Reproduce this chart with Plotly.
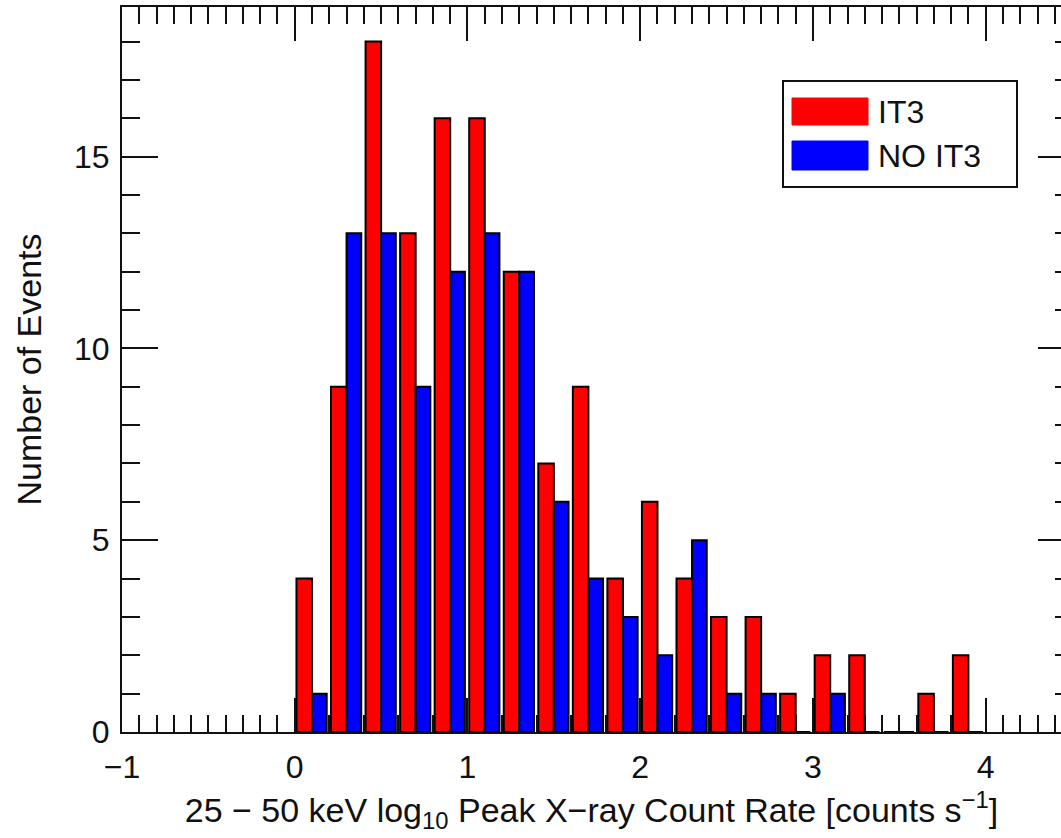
import plotly.graph_objects as go

# ---- data ----
bin_starts = [0.0, 0.2, 0.4, 0.6, 0.8, 1.0, 1.2, 1.4, 1.6, 1.8,
              2.0, 2.2, 2.4, 2.6, 2.8, 3.0, 3.2, 3.4, 3.6, 3.8]
it3_counts = [4, 9, 18, 13, 16, 16, 12, 7, 9, 4,
              6, 4, 3, 3, 1, 2, 2, 0, 1, 2]
no_it3_counts = [1, 13, 13, 9, 12, 13, 12, 6, 4, 3,
                 2, 5, 1, 1, 0, 1, 0, 0, 0, 0]
series_names = ["IT3", "NO IT3"]
y_tick_vals = [0, 5, 10, 15]
x_tick_vals = [-1, 0, 1, 2, 3, 4]

FONT = "Liberation Sans, Arial, Helvetica, sans-serif"
INK = "#111111"

fig = go.Figure()
fig.add_trace(go.Bar(
    x=bin_starts, y=it3_counts, name=series_names[0],
    offset=0.01, width=0.09,
    marker=dict(color="#ff0000", line=dict(color="#000000", width=2)),
    showlegend=False,
))
fig.add_trace(go.Bar(
    x=bin_starts, y=no_it3_counts, name=series_names[1],
    offset=0.10, width=0.085,
    marker=dict(color="#0000ff", line=dict(color="#000000", width=2)),
    showlegend=False,
))
# empty helper trace so the right-hand tick axis is drawn
fig.add_trace(go.Scatter(x=[None], y=[None], yaxis="y2", mode="markers",
                         showlegend=False, hoverinfo="skip"))

fig.update_layout(
    width=1061, height=838,
    margin=dict(l=122, r=0, t=7, b=106),
    paper_bgcolor="white", plot_bgcolor="white",
    barmode="overlay",
    font=dict(family=FONT, size=32, color=INK),
    xaxis=dict(
        range=[-1, 4.436], tickvals=x_tick_vals,
        ticktext=["\u22121" if v < 0 else str(v) for v in x_tick_vals],
        ticks="inside", ticklen=34, tickwidth=2, tickcolor=INK,
        minor=dict(dtick=0.1, tick0=0, ticks="inside", ticklen=17, tickwidth=2, tickcolor=INK),
        showline=True, linewidth=2, linecolor=INK, mirror="ticks",
        showgrid=False, zeroline=False,
        tickfont=dict(size=32), ticklabelstandoff=6,
        title=dict(text="25 \u2212 50 keV log<sub>10</sub> Peak X\u2212ray Count Rate [counts s<sup>\u22121</sup>]",
                   font=dict(size=34), standoff=14),
    ),
    yaxis=dict(
        range=[0, 18.9], tickvals=y_tick_vals,
        ticks="inside", ticklen=36, tickwidth=2, tickcolor=INK,
        minor=dict(dtick=1, tick0=0, ticks="inside", ticklen=18, tickwidth=2, tickcolor=INK),
        showline=True, linewidth=2, linecolor=INK, mirror=False,
        showgrid=False, zeroline=False,
        tickfont=dict(size=32), ticklabelstandoff=4,
        title=dict(text="Number of Events", font=dict(size=34), standoff=22),
    ),
    yaxis2=dict(
        overlaying="y", side="right", anchor="x", range=[0, 18.9],
        tickvals=y_tick_vals, showticklabels=False,
        ticks="inside", ticklen=23, tickwidth=2, tickcolor=INK,
        minor=dict(dtick=1, tick0=0, ticks="inside", ticklen=6, tickwidth=2, tickcolor=INK),
        showline=False, showgrid=False, zeroline=False,
    ),
)

# ---- manual legend (large swatches, boxed) ----
def px_x(p):
    return (p - 122) / 939.0

def px_y(p):
    return (732 - p) / 725.0

fig.add_shape(type="rect", xref="paper", yref="paper",
              x0=px_x(783), x1=px_x(1017), y0=px_y(187), y1=px_y(81),
              line=dict(color=INK, width=2), fillcolor="white", layer="above")
swatch_colors = ["#ff0000", "#0000ff"]
swatch_tops = [98, 141]
swatch_bottoms = [125, 170]
for name, col, t, b in zip(series_names, swatch_colors, swatch_tops, swatch_bottoms):
    fig.add_shape(type="rect", xref="paper", yref="paper",
                  x0=px_x(792), x1=px_x(868), y0=px_y(b), y1=px_y(t),
                  line=dict(color=col, width=1), fillcolor=col, layer="above")
    fig.add_annotation(xref="paper", yref="paper", x=px_x(876), y=px_y((t + b) / 2),
                       text=name, showarrow=False, xanchor="left", yanchor="middle",
                       font=dict(family=FONT, size=32, color=INK))

fig.write_html("out.html")
